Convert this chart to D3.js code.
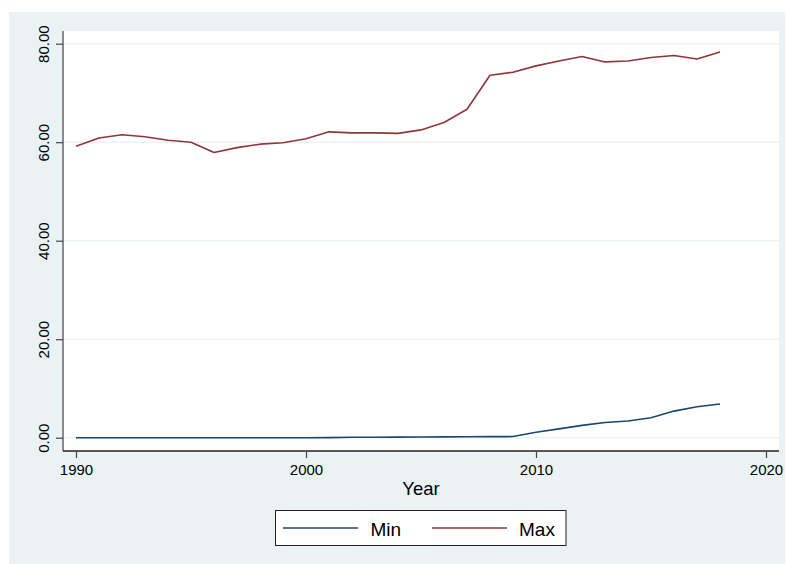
<!DOCTYPE html>
<html>
<head>
<meta charset="utf-8">
<script src="https://cdn.jsdelivr.net/npm/d3@7"></script>
<style>
  body { margin: 0; background: #fff; }
  svg { display: block; font-family: "Liberation Sans", Arial, sans-serif; }
</style>
</head>
<body>
<div id="chart"></div>
<script>
const years = d3.range(1990, 2019);
const minValues = [0, 0, 0, 0, 0, 0, 0, 0, 0, 0, 0, 0.02, 0.08, 0.1, 0.12, 0.15, 0.17, 0.19, 0.21, 0.23,
  1.1, 1.8, 2.5, 3.1, 3.4, 4.05, 5.4, 6.3, 6.85];
const maxValues = [59.2, 60.85, 61.5, 61.1, 60.4, 60.0, 57.9, 58.9, 59.6, 59.9, 60.7, 62.1, 61.9, 61.9, 61.8,
  62.5, 64.0, 66.7, 73.6, 74.2, 75.5, 76.5, 77.4, 76.3, 76.5, 77.2, 77.6, 76.9, 78.3];
const xTicks = [1990, 2000, 2010, 2020];
const yTicks = [0, 20, 40, 60, 80];
const seriesNames = ['Min', 'Max'];

const W = 786, H = 564;
const plot = { left: 63, right: 779, top: 31, bottom: 451 };
const colors = { Min: '#1a476f', Max: '#90353b' };
const bg = '#eaf2f3';

const svg = d3.select('#chart').append('svg').attr('width', W).attr('height', H);

svg.append('rect').attr('x', 9).attr('y', 12).attr('width', 776).attr('height', H - 12).attr('fill', bg);
svg.append('rect').attr('x', plot.left).attr('y', plot.top)
  .attr('width', plot.right - plot.left).attr('height', plot.bottom - plot.top).attr('fill', '#fff');

const x = d3.scaleLinear().domain([1990, 2020]).range([76, 766]);
const y = d3.scaleLinear().domain([0, 80]).range([437.7, 43.7]);

// gridlines
svg.append('g').selectAll('line').data(yTicks).enter().append('line')
  .attr('x1', plot.left).attr('x2', plot.right)
  .attr('y1', d => y(d)).attr('y2', d => y(d))
  .attr('stroke', bg).attr('stroke-width', 1.5);

// y axis
const yAxis = svg.append('g').attr('transform', `translate(${plot.left},0)`)
  .call(d3.axisLeft(y).tickValues(yTicks).tickSize(7).tickPadding(0).tickFormat(d3.format('.2f')));
yAxis.select('.domain').attr('d', `M0,${plot.top}V${plot.bottom}`).attr('stroke', '#666').attr('stroke-width', 1.5);
yAxis.selectAll('.tick line').attr('stroke', '#444').attr('stroke-width', 1.2);
yAxis.selectAll('.tick text')
  .attr('x', null).attr('dy', null).attr('y', null)
  .attr('transform', 'translate(-14,0) rotate(-90)')
  .attr('text-anchor', 'middle')
  .attr('fill', '#000')
  .style('font-size', '15px')
  .style('font-family', '"Liberation Sans", Arial, sans-serif');

// x axis
const xAxis = svg.append('g').attr('transform', `translate(0,${plot.bottom})`)
  .call(d3.axisBottom(x).tickValues(xTicks).tickSize(7).tickFormat(d3.format('d')));
xAxis.select('.domain').attr('d', `M${plot.left},0H${plot.right}`).attr('stroke', '#222').attr('stroke-width', 1.5);
xAxis.selectAll('.tick line').attr('stroke', '#444').attr('stroke-width', 1.2);
xAxis.selectAll('.tick text')
  .attr('y', 24).attr('dy', null)
  .attr('fill', '#000')
  .style('font-size', '15px')
  .style('font-family', '"Liberation Sans", Arial, sans-serif');

svg.append('text').text('Year')
  .attr('x', (plot.left + plot.right) / 2).attr('y', 495)
  .attr('text-anchor', 'middle').style('font-size', '18.5px');

// lines
const line = d3.line().x((d, i) => x(years[i])).y(d => y(d));
[minValues, maxValues].forEach((vals, i) => {
  svg.append('path').datum(vals)
    .attr('d', line)
    .attr('fill', 'none')
    .attr('stroke', colors[seriesNames[i]])
    .attr('stroke-width', 1.6)
    .attr('stroke-linejoin', 'round');
});

// legend
const legend = svg.append('g');
legend.append('rect').attr('x', 275.5).attr('y', 510.5).attr('width', 290.5).attr('height', 35)
  .attr('fill', '#fff').attr('stroke', '#222').attr('stroke-width', 1);
const legendItems = [{ x: 283, tx: 370.5 }, { x: 432, tx: 519 }];
seriesNames.forEach((name, i) => {
  const it = legendItems[i];
  legend.append('line').attr('x1', it.x).attr('x2', it.x + 75).attr('y1', 528).attr('y2', 528)
    .attr('stroke', colors[name]).attr('stroke-width', 1.6);
  legend.append('text').text(name).attr('x', it.tx).attr('y', 535.5).style('font-size', '19px');
});
</script>
</body>
</html>
